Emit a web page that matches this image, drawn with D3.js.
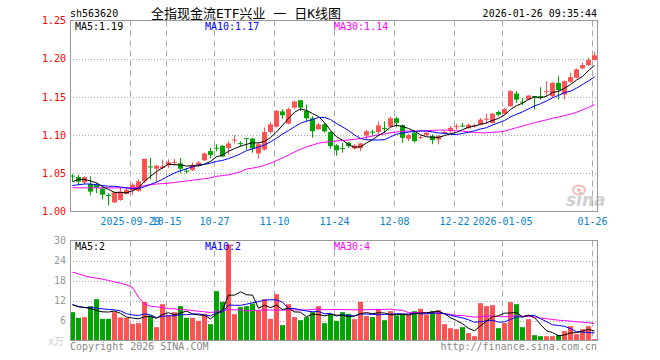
<!DOCTYPE html>
<html>
<head>
<meta charset="utf-8">
<title>sh563620 日K线图</title>
<script src="https://d3js.org/d3.v7.min.js"></script>
<style>
  body { margin: 0; background: #fff; }
  text { font-family: "DejaVu Sans Mono", "Noto Sans CJK SC", monospace; }
</style>
</head>
<body>
<script>
// trading days shown on the chart
var dates = [
  "2025-09-15","2025-09-16","2025-09-17","2025-09-18","2025-09-19","2025-09-22","2025-09-23","2025-09-24","2025-09-25","2025-09-26",
  "2025-09-29","2025-09-30","2025-10-09","2025-10-10","2025-10-13","2025-10-14","2025-10-15","2025-10-16","2025-10-17","2025-10-20",
  "2025-10-21","2025-10-22","2025-10-23","2025-10-24","2025-10-27","2025-10-28","2025-10-29","2025-10-30","2025-10-31","2025-11-03",
  "2025-11-04","2025-11-05","2025-11-06","2025-11-07","2025-11-10","2025-11-11","2025-11-12","2025-11-13","2025-11-14","2025-11-17",
  "2025-11-18","2025-11-19","2025-11-20","2025-11-21","2025-11-24","2025-11-25","2025-11-26","2025-11-27","2025-11-28","2025-12-01",
  "2025-12-02","2025-12-03","2025-12-04","2025-12-05","2025-12-08","2025-12-09","2025-12-10","2025-12-11","2025-12-12","2025-12-15",
  "2025-12-16","2025-12-17","2025-12-18","2025-12-19","2025-12-22","2025-12-23","2025-12-24","2025-12-25","2025-12-26","2025-12-29",
  "2025-12-30","2025-12-31","2026-01-05","2026-01-06","2026-01-07","2026-01-08","2026-01-09","2026-01-12","2026-01-13","2026-01-14",
  "2026-01-15","2026-01-16","2026-01-19","2026-01-20","2026-01-21","2026-01-22","2026-01-23","2026-01-26"
];

var opens = [
  1.047,1.045,1.038,1.036,1.035,1.030,1.0215,1.012,1.015,1.023,
  1.028,1.027,1.0395,1.059,1.056,1.057,1.0605,1.064,1.063,1.0535,
  1.054,1.060,1.067,1.079,1.0835,1.086,1.083,1.0935,1.0895,1.096,
  1.0955,1.076,1.081,1.104,1.111,1.131,1.115,1.136,1.1456,1.1316,
  1.122,1.1075,1.114,1.104,1.0865,1.083,1.090,1.0825,1.083,1.0995,
  1.1045,1.104,1.1095,1.111,1.122,1.113,1.0952,1.103,1.097,1.100,
  1.0987,1.0943,1.1035,1.105,1.1113,1.1125,1.1092,1.1123,1.1136,1.121,
  1.1158,1.1303,1.128,1.1377,1.1544,1.1438,1.1465,1.1512,1.1512,1.1570,
  1.1509,1.1684,1.1531,1.1697,1.175,1.1873,1.1917,1.1982
];
var highs = [
  1.049,1.048,1.046,1.046,1.037,1.033,1.024,1.026,1.031,1.031,
  1.038,1.042,1.069,1.070,1.061,1.068,1.068,1.069,1.070,1.057,
  1.064,1.066,1.077,1.083,1.088,1.087,1.092,1.100,1.092,1.0965,
  1.0965,1.090,1.110,1.117,1.133,1.134,1.136,1.145,1.146,1.140,
  1.125,1.116,1.116,1.105,1.088,1.090,1.091,1.088,1.090,1.107,
  1.107,1.118,1.118,1.124,1.124,1.114,1.102,1.104,1.100,1.104,
  1.101,1.100,1.106,1.1117,1.1148,1.116,1.115,1.115,1.1224,1.128,
  1.129,1.132,1.1355,1.159,1.1575,1.1487,1.1522,1.1512,1.1627,1.1706,
  1.1693,1.1776,1.1715,1.1816,1.1873,1.195,1.2013,1.209
];
var lows = [
  1.039,1.035,1.036,1.021,1.024,1.016,1.008,1.011,1.014,1.022,
  1.022,1.026,1.037,1.042,1.039,1.055,1.057,1.060,1.050,1.050,
  1.053,1.058,1.066,1.070,1.079,1.071,1.074,1.089,1.085,1.081,
  1.077,1.069,1.080,1.102,1.110,1.121,1.114,1.134,1.1316,1.118,
  1.0965,1.107,1.103,1.082,1.073,1.077,1.083,1.081,1.079,1.094,
  1.099,1.101,1.103,1.110,1.110,1.090,1.092,1.090,1.095,1.099,
  1.088,1.088,1.101,1.103,1.107,1.1105,1.1083,1.110,1.1127,1.1145,
  1.115,1.1245,1.1267,1.137,1.142,1.139,1.1456,1.1333,1.1465,1.1509,
  1.149,1.1465,1.1465,1.1684,1.1741,1.186,1.1904,1.1978
];
var closes = [
  1.046,1.039,1.045,1.026,1.031,1.022,1.021,1.025,1.026,1.0285,
  1.035,1.0395,1.069,1.058,1.060,1.059,1.0645,1.065,1.056,1.053,
  1.061,1.064,1.076,1.074,1.083,1.072,1.089,1.094,1.089,1.0955,
  1.0825,1.088,1.104,1.114,1.1316,1.126,1.134,1.144,1.136,1.122,
  1.105,1.114,1.105,1.0855,1.080,1.0825,1.0855,1.0865,1.089,1.105,
  1.104,1.1127,1.109,1.122,1.116,1.0965,1.100,1.092,1.0975,1.103,
  1.0935,1.0987,1.104,1.1096,1.1117,1.112,1.1136,1.1128,1.1202,1.1215,
  1.128,1.1267,1.1342,1.1575,1.1465,1.1434,1.1518,1.1508,1.1508,1.1575,
  1.1684,1.1588,1.1706,1.1759,1.186,1.1917,1.1982,1.2044
];
// volume, 万手
var volumes = [
  8.5,6.8,7.0,10.3,12.4,6.5,6.5,8.5,6.9,6.8,
  5.0,5.2,11.6,7.5,4.0,10.9,7.6,8.5,10.3,6.8,
  6.8,5.9,8.0,4.9,14.8,11.6,28.8,7.9,10.0,10.3,
  11.1,9.1,12.4,6.5,13.9,4.6,10.9,7.0,6.1,7.0,
  8.5,10.3,5.2,8.0,5.9,8.5,8.0,6.4,11.6,7.3,
  7.0,9.3,6.1,8.8,7.5,7.8,7.8,8.8,9.5,7.8,
  8.8,9.1,4.9,3.7,3.4,4.0,2.2,1.3,11.2,10.3,
  10.6,3.7,5.2,11.5,10.9,4.0,6.4,1.6,1.3,1.3,
  1.3,1.6,2.8,4.3,1.9,3.4,4.3,0.4
];

// moving average values before enough days are on the chart
var ma5Lead = [1.039, 1.042, 1.042, 1.040];
var ma10Lead = [1.034, 1.035, 1.036, 1.036, 1.035, 1.034, 1.033, 1.033, 1.032];
var ma30Lead = [1.031, 1.031, 1.031, 1.031, 1.031, 1.031, 1.031, 1.031, 1.031, 1.031,
  1.031, 1.032, 1.034, 1.035, 1.036, 1.0365, 1.037, 1.038, 1.039, 1.040,
  1.041, 1.042, 1.043, 1.044, 1.046, 1.047, 1.048, 1.050, 1.052];
var volMa5Lead = [10.7, 10.1, 9.9, 9.6];
var volMa10Lead = [10.8, 10.2, 9.9, 9.9, 9.7, 9.5, 9.3, 9.2, 8.9];
var volMa30Lead = [20.5, 20.0, 19.4, 19.0, 18.7, 18.4, 18.0, 17.6, 17.2, 16.7,
  15.9, 13.0, 11.0, 10.3, 10.1, 9.9, 9.6, 9.5, 9.3, 9.2,
  9.0, 8.8, 8.6, 8.4, 8.7, 8.9, 9.3, 9.2, 9.2];

var priceTicks = [1.00, 1.05, 1.10, 1.15, 1.20, 1.25];
var volTicks = [6, 12, 18, 24, 30];
var dateTicks = ["2025-09-29","2025-10-15","2025-10-27","2025-11-10","2025-11-24","2025-12-08","2025-12-22","2026-01-05","2026-01-26"];
var dateTickLabels = ["2025-09-29","10-15","10-27","11-10","11-24","12-08","12-22","2026-01-05","01-26"];

var RED = "#ff5252", GREEN = "#00a400", GRID = "#aaa", FRAME = "#999";

var W = 660, H = 360;
var left = 70, right = 598;
var pTop = 20.5, pBot = 211.5, vTop = 240.5, vBot = 340.5;

var svg = d3.select("body").append("svg")
    .attr("width", W)
    .attr("height", H);

var x = d3.scaleBand().domain(dates).range([left, right]);
var y = d3.scaleLinear().domain([1.00, 1.25]).range([pBot, pTop]);
var yv = d3.scaleLinear().domain([0, 30]).range([vBot, vTop]);
var cx = function(d) { return x(d) + 2.5; };

function movingAvg(vals, n, lead) {
  return vals.map(function(v, i) {
    if (i < n - 1) return lead[i];
    return d3.mean(vals.slice(i - n + 1, i + 1));
  });
}

var data = dates.map(function(d, i) {
  return { date: d, o: opens[i], h: highs[i], l: lows[i], c: closes[i], v: volumes[i] };
});
var col = function(d) { return d.c >= d.o ? RED : GREEN; };

// ---- header
svg.append("text").attr("x", 70).attr("y", 17).attr("font-size", 10).attr("fill", "#000").text("sh563620");
svg.append("text").attr("x", 151).attr("y", 18).attr("font-size", 13).attr("fill", "#000").text("全指现金流ETF兴业 一 日K线图");
svg.append("text").attr("x", 597).attr("y", 17).attr("font-size", 10).attr("fill", "#000")
    .attr("text-anchor", "end").text("2026-01-26 09:35:44");

// ---- grids
function hGrid(scale, ticks) {
  svg.append("g").selectAll("line").data(ticks).enter().append("line")
    .attr("x1", left).attr("x2", right)
    .attr("y1", function(d) { return Math.round(scale(d)) + 0.5; })
    .attr("y2", function(d) { return Math.round(scale(d)) + 0.5; })
    .attr("stroke", GRID).attr("stroke-dasharray", "1,2");
}
hGrid(y, [1.05, 1.10, 1.15, 1.20]);
hGrid(yv, [6, 12, 18, 24]);

[[pTop, pBot], [vTop, vBot]].forEach(function(r) {
  svg.append("g").selectAll("line").data(dateTicks.slice(0, -1).concat([dateTicks[dateTicks.length - 1]])).enter().append("line")
    .attr("x1", function(d) { return x(d) + 0.5; })
    .attr("x2", function(d) { return x(d) + 0.5; })
    .attr("y1", r[0]).attr("y2", r[1])
    .attr("stroke", GRID).attr("stroke-dasharray", "6,4");
});

// ---- watermark
var wm = svg.append("g").attr("opacity", 0.55);
wm.append("ellipse").attr("cx", 579).attr("cy", 190).attr("rx", 6).attr("ry", 4.5)
    .attr("fill", "none").attr("stroke", "#e88").attr("stroke-width", 2);
wm.append("circle").attr("cx", 579).attr("cy", 190).attr("r", 2).attr("fill", "#e88");
wm.append("text").attr("x", 566).attr("y", 206).attr("font-size", 17).attr("font-style", "italic")
    .attr("font-weight", "bold").attr("fill", "#aaa")
    .style("font-family", "'DejaVu Sans', sans-serif").text("sina");

// ---- candles
var candles = svg.append("g").selectAll("g").data(data).enter().append("g");
candles.append("line")
    .attr("x1", function(d) { return cx(d.date); })
    .attr("x2", function(d) { return cx(d.date); })
    .attr("y1", function(d) { return y(d.h); })
    .attr("y2", function(d) { return y(d.l); })
    .attr("stroke", col);
candles.append("rect")
    .attr("x", function(d) { return x(d.date); })
    .attr("width", 5)
    .attr("y", function(d) { return y(Math.max(d.o, d.c)); })
    .attr("height", function(d) { return Math.max(1, Math.abs(y(d.o) - y(d.c))); })
    .attr("fill", col);

// ---- volume bars
svg.append("g").selectAll("rect").data(data).enter().append("rect")
    .attr("x", function(d) { return x(d.date); })
    .attr("width", 5)
    .attr("y", function(d) { return yv(d.v); })
    .attr("height", function(d) { return vBot - yv(d.v); })
    .attr("fill", col);

// ---- moving averages
function drawLine(vals, scale, color) {
  var line = d3.line()
    .x(function(v, i) { return cx(dates[i]); })
    .y(function(v) { return scale(v); });
  svg.append("path").datum(vals)
    .attr("d", line).attr("fill", "none").attr("stroke", color).attr("stroke-width", 1);
}
drawLine(movingAvg(closes, 30, ma30Lead), y, "#ff00ff");
drawLine(movingAvg(closes, 10, ma10Lead), y, "#0000ff");
drawLine(movingAvg(closes, 5, ma5Lead), y, "#000");
drawLine(movingAvg(volumes, 30, volMa30Lead), yv, "#ff00ff");
drawLine(movingAvg(volumes, 10, volMa10Lead), yv, "#0000ff");
drawLine(movingAvg(volumes, 5, volMa5Lead), yv, "#000");

// ---- frames
svg.append("rect").attr("x", left + 0.5).attr("y", pTop).attr("width", right - left - 1).attr("height", pBot - pTop)
    .attr("fill", "none").attr("stroke", FRAME);
svg.append("rect").attr("x", left + 0.5).attr("y", vTop).attr("width", right - left - 1).attr("height", vBot - vTop)
    .attr("fill", "none").attr("stroke", FRAME);

// ---- axes
var ay = svg.append("g").attr("transform", "translate(" + (left - 4) + ",0)")
    .call(d3.axisLeft(y).tickValues(priceTicks).tickFormat(d3.format(".2f")).tickSize(0).tickPadding(0));
ay.select(".domain").remove();
ay.selectAll("text").attr("fill", "#f00").attr("font-size", 10).style("font-family", "'DejaVu Sans Mono', monospace");

var av = svg.append("g").attr("transform", "translate(" + (left - 4) + ",0)")
    .call(d3.axisLeft(yv).tickValues(volTicks).tickSize(0).tickPadding(0));
av.select(".domain").remove();
av.selectAll("text").attr("fill", "#999").attr("font-size", 10).style("font-family", "'DejaVu Sans Mono', monospace");

var ax = svg.append("g").attr("transform", "translate(0," + pBot + ")")
    .call(d3.axisBottom(x).tickValues(dateTicks)
      .tickFormat(function(d) { return dateTickLabels[dateTicks.indexOf(d)]; })
      .tickSize(0).tickPadding(6));
ax.select(".domain").remove();
ax.selectAll(".tick").attr("transform", function(d) { return "translate(" + (x(d) + 0.5) + ",0)"; });
ax.selectAll("text").attr("fill", "#0a84d0").attr("font-size", 10).style("font-family", "'DejaVu Sans Mono', monospace");

svg.append("text").attr("x", 64).attr("y", 345).attr("text-anchor", "end").attr("font-size", 10)
    .attr("fill", "#ccc").text("x万");

// ---- MA labels
function maLabels(yy, items) {
  items.forEach(function(it) {
    svg.append("text").attr("x", it[0]).attr("y", yy).attr("font-size", 10).attr("fill", it[2]).text(it[1]);
  });
}
maLabels(29.5, [[75, "MA5:1.19", "#000"], [205, "MA10:1.17", "#0000ff"], [334, "MA30:1.14", "#ff00ff"]]);
maLabels(249.5, [[75, "MA5:2", "#000"], [205, "MA10:2", "#0000ff"], [334, "MA30:4", "#ff00ff"]]);

// ---- footer
svg.append("text").attr("x", 70).attr("y", 349.5).attr("font-size", 10).attr("fill", "#888").text("Copyright 2026 SINA.COM");
svg.append("text").attr("x", 597).attr("y", 349.5).attr("font-size", 10).attr("fill", "#888")
    .attr("text-anchor", "end").text("http://finance.sina.com.cn");
</script>
</body>
</html>
